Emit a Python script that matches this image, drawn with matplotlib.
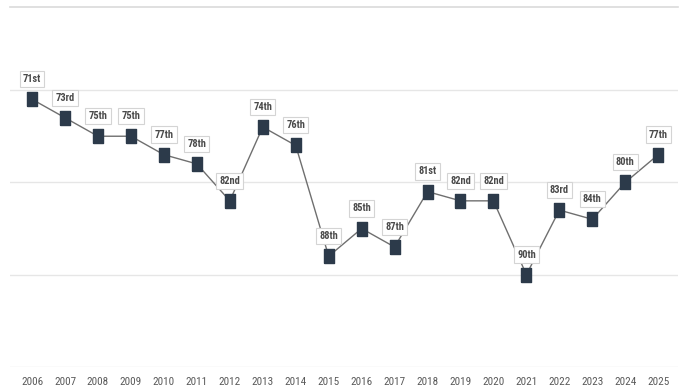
import matplotlib.pyplot as plt
from matplotlib import font_manager
import numpy as np

years = [2006, 2007, 2008, 2009, 2010, 2011, 2012, 2013, 2014, 2015,
         2016, 2017, 2018, 2019, 2020, 2021, 2022, 2023, 2024, 2025]
ranks = [71, 73, 75, 75, 77, 78, 82, 74, 76, 88,
         85, 87, 81, 82, 82, 90, 83, 84, 80, 77]


def ordinal(n):
    if 10 <= n % 100 <= 20:
        suffix = 'th'
    else:
        suffix = {1: 'st', 2: 'nd', 3: 'rd'}.get(n % 10, 'th')
    return '{}{}'.format(n, suffix)


names = {f.name for f in font_manager.fontManager.ttflist}
narrow = [n for n in ['Roboto Condensed', 'Liberation Sans Narrow', 'DejaVu Sans Condensed'] if n in names]
plt.rcParams['font.family'] = narrow + ['Roboto', 'DejaVu Sans']

fig = plt.figure(figsize=(6.83, 3.92), dpi=100)
ax = fig.add_axes([10 / 683, 25 / 392, 668 / 683, 360 / 392])

# tall rectangular marker
box = [(-0.34, -0.5), (0.34, -0.5), (0.34, 0.5), (-0.34, 0.5), (-0.34, -0.5)]

x = np.array(years)
ax.plot(x, ranks, color='#6f6f6f', linewidth=1, zorder=2)
ax.plot(x, ranks, linestyle='none', marker=box, markersize=9.8,
        markerfacecolor='#2c3a4a', markeredgecolor='#2c3a4a', zorder=3)

# rank labels in small boxes above each point
for xi, r in zip(x, ranks):
    ax.annotate(ordinal(r), (xi, r), xytext=(0, 14.5), textcoords='offset points',
                ha='center', va='center', fontsize=7.5, fontweight='bold',
                fontstretch='condensed', color='#4a4a4a', zorder=4,
                bbox=dict(boxstyle='square,pad=0.3', facecolor='white',
                          edgecolor='#d4d4d4', linewidth=0.8))

ax.set_xlim(2005.33, 2025.6)
ax.set_ylim(100, 61)
ax.set_yticks([70, 80, 90, 100])
ax.set_xticks(x)
ax.set_xticklabels([str(y) for y in years], fontstretch='condensed')
ax.tick_params(axis='x', length=0, pad=7, labelsize=8, labelcolor='#5a5a5a')
ax.tick_params(axis='y', length=0, labelleft=False)

ax.yaxis.grid(True, color='#e6e6e6', linewidth=1)
ax.set_axisbelow(True)
for s in ax.spines.values():
    s.set_visible(False)
ax.spines['top'].set_visible(True)
ax.spines['top'].set_color('#dadada')
ax.spines['top'].set_linewidth(1.2)

fig.savefig('out.png', dpi=100)
